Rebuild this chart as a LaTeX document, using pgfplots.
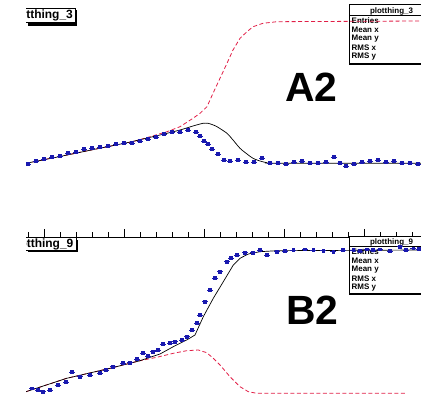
\documentclass[border=0pt]{standalone}
\usepackage{pgfplots}
\pgfplotsset{compat=1.18}
\usepackage{fontspec}
\setmainfont{Liberation Sans}
\definecolor{rootred}{RGB}{225,30,70}
\definecolor{rootblue}{RGB}{25,25,175}
\pgfplotsset{
  blueset/.style={only marks, mark=square*, mark size=1.35pt, color=rootblue,
    error bars/.cd, x dir=both, x fixed=3, y dir=both, y fixed=1.5,
    error mark=none, error bar style={line width=0.6pt, rootblue}},
  redset/.style={no marks, color=rootred, line width=0.8pt, dash pattern=on 4bp off 2.5bp},
  blackset/.style={no marks, color=black, line width=0.7pt},
}
\begin{document}
\begin{tikzpicture}
\path[use as bounding box] (0,0) rectangle (421bp,397bp);
% ---------------- top panel A2 ----------------
\begin{axis}[
  at={(26bp,160bp)}, anchor=south west, scale only axis,
  width=395bp, height=237bp,
  xmin=26, xmax=421, ymin=160, ymax=397,
  axis x line*=bottom, axis y line=none,
  x axis line style={-, line width=0.6pt},
  xtick={44,124,204,284,364}, xticklabels={},
  minor xtick={28,60,76,92,108,140,156,172,188,220,236,252,268,300,316,332,348,380,396,412},
  tick align=inside, major tick length=8bp, minor tick length=5bp,
  tick style={black, line width=0.6pt},
]
% title box
\fill[black] (28,371) rectangle (77,387);
\filldraw[fill=white, draw=black, line width=0.6pt] (20,375) rectangle (75,389);
\node[anchor=base east, inner sep=0pt, font=\fontsize{12}{12}\selectfont\bfseries] at (73,378.5) {plotthing\_3};
% stats box
\fill[black] (349,332) rectangle (423,334.5);
\filldraw[fill=white, draw=black, line width=0.6pt] (349,334) rectangle (425,393);
\draw[line width=0.6pt] (349,381.5) -- (425,381.5);
\node[inner sep=0pt, font=\fontsize{8}{8}\selectfont\bfseries] at (391.5,386) {plotthing\_3};
\node[anchor=west, inner sep=0pt, font=\fontsize{8}{8}\selectfont\bfseries] at (351.5,376.5) {Entries};
\node[anchor=west, inner sep=0pt, font=\fontsize{8}{8}\selectfont\bfseries] at (351.5,367.5) {Mean x};
\node[anchor=west, inner sep=0pt, font=\fontsize{8}{8}\selectfont\bfseries] at (351.5,358.5) {Mean y};
\node[anchor=west, inner sep=0pt, font=\fontsize{8}{8}\selectfont\bfseries] at (351.5,349.5) {RMS x};
\node[anchor=west, inner sep=0pt, font=\fontsize{8}{8}\selectfont\bfseries] at (351.5,340.5) {RMS y};
% big label
\node[inner sep=0pt, font=\fontsize{41}{41}\selectfont\bfseries] at (311.5,310) {A2};
% curves
\addplot[redset] coordinates {
(26,233.7) (60,240.6) (100,248.8) (133,255.3) (150,260.3) (167,265.3) (180,270.3)
(193,278.7) (200,283.7) (207,290.3) (213,303.7) (220,318.7) (227,333.7) (233,347)
(240,358.7) (247,365.3) (253,370.3) (263,373.7) (277,375.3) (421,376)};
\addplot[blackset, smooth, tension=0.4] coordinates {
(26,233.7) (60,240.5) (100,248.8) (127,254.3) (160,262) (180,267) (193,271)
(203,273.7) (208,273.7) (212,272.5) (217,270.3) (227,263.7) (233,257) (240,248.7)
(247,243) (253,238.7) (260,236) (267,234.3) (277,233.7) (421,233.7)};
\addplot[blueset] coordinates {
(28,233) (36,236) (44,238) (52,240) (60,241) (68,244) (76,245) (84,248) (92,249)
(100,250) (108,251) (116,253) (124,254) (132,254) (140,256) (148,258) (156,260)
(164,263) (172,265) (180,265) (188,267) (196,265) (200,261) (204,256) (208,253)
(212,248) (218,243) (224,237) (230,236) (238,237) (246,235) (254,235) (262,239)
(270,234) (278,234) (286,233) (294,235) (302,236) (310,234) (318,234) (326,235)
(334,240) (340,234) (346,231) (354,233) (362,235) (370,236) (378,237) (386,235)
(394,236) (402,234) (410,234) (418,233)};
\end{axis}
% ---------------- bottom panel B2 ----------------
\begin{axis}[
  at={(26bp,0bp)}, anchor=south west, scale only axis,
  width=395bp, height=160bp,
  xmin=26, xmax=421, ymin=0, ymax=160,
  hide axis,
]
\fill[black] (28,144.5) rectangle (78,157);
\filldraw[fill=white, draw=black, line width=0.6pt] (20,146.5) rectangle (76,159.5);
\node[anchor=base east, inner sep=0pt, font=\fontsize{12}{12}\selectfont\bfseries] at (73.5,150) {plotthing\_9};
\fill[black] (349,101.5) rectangle (423,104);
\filldraw[fill=white, draw=black, line width=0.6pt] (349,103.5) rectangle (425,161);
\draw[line width=0.6pt] (349,150.5) -- (425,150.5);
\node[inner sep=0pt, font=\fontsize{8}{8}\selectfont\bfseries] at (391.5,155) {plotthing\_9};
\node[anchor=west, inner sep=0pt, font=\fontsize{8}{8}\selectfont\bfseries] at (351.5,145.5) {Entries};
\node[anchor=west, inner sep=0pt, font=\fontsize{8}{8}\selectfont\bfseries] at (351.5,136.5) {Mean x};
\node[anchor=west, inner sep=0pt, font=\fontsize{8}{8}\selectfont\bfseries] at (351.5,127.5) {Mean y};
\node[anchor=west, inner sep=0pt, font=\fontsize{8}{8}\selectfont\bfseries] at (351.5,118.5) {RMS x};
\node[anchor=west, inner sep=0pt, font=\fontsize{8}{8}\selectfont\bfseries] at (351.5,109.5) {RMS y};
\node[inner sep=0pt, font=\fontsize{41}{41}\selectfont\bfseries] at (312.5,87) {B2};
\addplot[redset] coordinates {
(26,5.3) (66.7,18.7) (110,28.7) (140,36.3) (156.7,39.7) (173.3,43.7) (186.7,46.3)
(198.3,47) (206.7,44.3) (213.3,38.7) (220,32) (230,20.3) (240,10.3) (248.3,5.3)
(256.7,3.7) (405,3.7)};
\addplot[blackset] coordinates {
(26,5.3) (66.7,18.7) (110,28.7) (140,36.3) (160,43) (173.3,50.3) (186.7,57) (195,62)
(203.3,80.3) (213.3,98.7) (223.3,115.3) (233.3,132) (240,138.7) (248.3,143) (260,145.3)
(276.7,146.3) (421,147)};
\addplot[blueset] coordinates {
(31.7,8.7) (38,7) (43,5.3) (50,7) (58,12) (66,15) (72,25) (80,20.3) (90,22) (100,24)
(106,27) (113,30.3) (123,34) (130,34.3) (137,38) (143,44) (148,41) (153,45.3) (158,47)
(163,53) (170,54) (175,55.3) (181.7,57) (186.7,60.3) (192,67) (196.7,74) (200,82)
(205,95.3) (210,107) (215,119) (220,125.3) (226.7,135.3) (231,139) (236.7,142)
(245,144.3) (253,144.3) (260,147) (266.7,142) (276.7,145.3) (285,146) (293.3,147)
(305,147.7) (313.3,147) (323.3,146.3) (333.3,145.3) (343,147) (353.3,147) (360,146)
(366.7,147.7) (373,147) (380,147.7) (390,146) (400,150.3) (406,147) (413.3,148.7) (419,148)};
\end{axis}
\end{tikzpicture}
\end{document}
